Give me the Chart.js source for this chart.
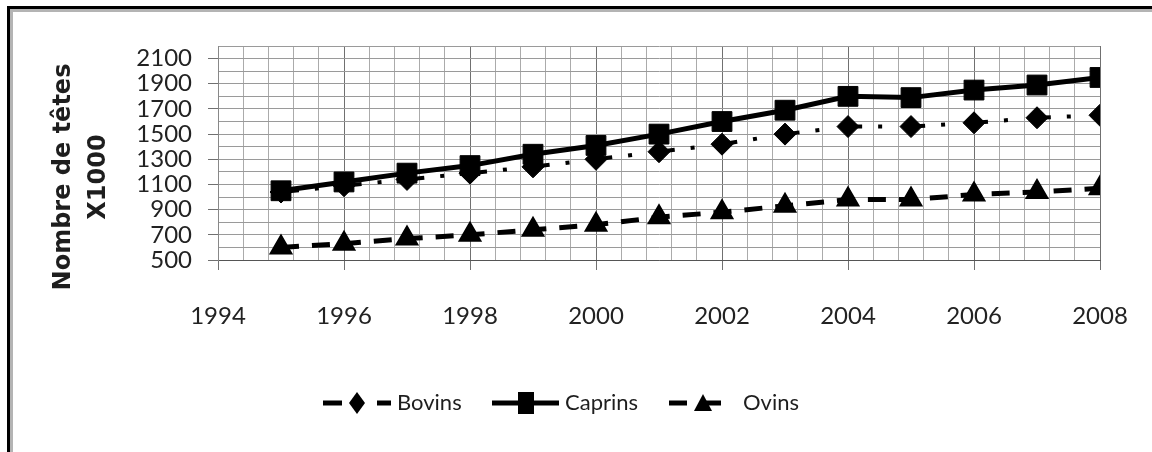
<!DOCTYPE html>
<html>
<head>
<meta charset="utf-8">
<title>Nombre de têtes</title>
<script src="https://cdn.jsdelivr.net/npm/chart.js@4.4.1/dist/chart.umd.min.js"></script>
<style>
  html, body { margin: 0; padding: 0; background: #fff; overflow: hidden; }
  #wrap { position: relative; width: 1152px; height: 452px; overflow: hidden; }
  #chart { position: absolute; left: 0; top: 0; }
  #frame {
    position: absolute; left: 7px; top: 6px; right: -10px; bottom: -10px;
    border-top: 3px solid #000; border-left: 3px solid #000; pointer-events: none;
  }
  #frame div {
    position: absolute; left: 0; top: 0; right: 0; bottom: 0;
    border-top: 3px solid #b4b4b4; border-left: 3px solid #b4b4b4;
  }
</style>
</head>
<body>
<div id="wrap">
  <canvas id="chart" width="1152" height="452"></canvas>
  <div id="frame"><div></div></div>
</div>
<script>
const years = [1995, 1996, 1997, 1998, 1999, 2000, 2001, 2002, 2003, 2004, 2005, 2006, 2007, 2008];
const bovins = [1040, 1090, 1140, 1190, 1240, 1300, 1360, 1420, 1500, 1560, 1560, 1590, 1630, 1650];
const caprins = [1050, 1120, 1190, 1250, 1340, 1410, 1500, 1600, 1690, 1800, 1790, 1850, 1890, 1950];
const ovins = [600, 630, 670, 700, 740, 780, 840, 880, 930, 980, 980, 1020, 1040, 1070];
const seriesNames = ["Bovins", "Caprins", "Ovins"];
const xTickLabels = [1994, 1996, 1998, 2000, 2002, 2004, 2006, 2008];
const yTickLabels = [500, 700, 900, 1100, 1300, 1500, 1700, 1900, 2100];
const axisTitle = ["Nombre de têtes", "X1000"];

const toPoints = (vals) => vals.map((v, i) => ({ x: years[i], y: v }));

const isMajorX = (v) => {
  const yr = Math.round(v);
  return Math.abs(v - yr) < 0.01 && xTickLabels.includes(yr);
};
const isMajorY = (v) => yTickLabels.includes(Math.round(v));

// titre de l'axe Y + légende dessinés à la main
const extras = {
  id: "extras",
  afterDraw(chart) {
    const c = chart.ctx;
    c.save();
    c.fillStyle = "#1e1e1e";
    c.font = "bold 24px 'DejaVu Sans'";
    c.textAlign = "center";
    c.textBaseline = "middle";
    axisTitle.forEach((t, i) => {
      c.save();
      c.translate(64 + i * 35, 177);
      c.rotate(-Math.PI / 2);
      c.fillText(t, 0, 0);
      c.restore();
    });

    const items = [
      { start: 323, end: 391, marker: 357, text: 397, dash: [19, 35, 14] },
      { start: 492, end: 559, marker: 526, text: 565, dash: [] },
      { start: 669, end: 721, marker: 703, text: 743, dash: [18, 16, 18] },
    ];
    const ly = 403;
    chart.data.datasets.forEach((ds, i) => {
      const it = items[i];
      c.strokeStyle = "#000";
      c.fillStyle = "#000";
      c.lineWidth = 5;
      c.setLineDash(it.dash);
      c.beginPath();
      c.moveTo(it.start, ly);
      c.lineTo(it.end, ly);
      c.stroke();
      c.setLineDash([]);
      c.beginPath();
      const m = it.marker;
      if (ds.pointStyle === "rectRot") {
        c.moveTo(m, ly - 11); c.lineTo(m + 8, ly); c.lineTo(m, ly + 11); c.lineTo(m - 8, ly);
      } else if (ds.pointStyle === "rect") {
        c.rect(m - 8, ly - 11, 16, 22);
      } else {
        c.moveTo(m, ly - 9); c.lineTo(m + 9, ly + 8); c.lineTo(m - 9, ly + 8);
      }
      c.closePath();
      c.fill();
      c.fillStyle = "#1e1e1e";
      c.font = "22px Lato";
      c.textAlign = "left";
      c.fillText(ds.label, it.text, ly);
    });
    c.restore();
  },
};

const ctx = document.getElementById("chart").getContext("2d");
new Chart(ctx, {
  type: "line",
  data: {
    datasets: [
      {
        label: seriesNames[0],
        data: toPoints(bovins),
        borderColor: "#000",
        backgroundColor: "#000",
        borderWidth: 4,
        borderDash: [18, 16, 4, 25],
        pointStyle: "rectRot",
        pointRadius: 11,
        pointBorderWidth: 1,
      },
      {
        label: seriesNames[1],
        data: toPoints(caprins),
        borderColor: "#000",
        backgroundColor: "#000",
        borderWidth: 5,
        pointStyle: "rect",
        pointRadius: 14,
        pointBorderWidth: 1,
      },
      {
        label: seriesNames[2],
        data: toPoints(ovins),
        borderColor: "#000",
        backgroundColor: "#000",
        borderWidth: 5,
        borderDash: [18, 13],
        pointStyle: "triangle",
        pointRadius: 12,
        pointBorderWidth: 2,
      },
    ],
  },
  options: {
    responsive: false,
    animation: false,
    layout: { padding: { left: 0, top: 46, right: 52, bottom: 0 } },
    plugins: { legend: { display: false }, tooltip: { enabled: false } },
    elements: { line: { tension: 0 } },
    scales: {
      x: {
        type: "linear",
        min: 1994,
        max: 2008,
        afterFit: (scale) => {
          scale.height = 192;
          scale.paddingLeft = 0;
          scale.paddingRight = 0;
        },
        ticks: {
          stepSize: 0.4,
          autoSkip: false,
          maxRotation: 0,
          padding: 32,
          color: "#222",
          font: { family: "Lato", size: 24 },
          callback: (v) => (isMajorX(v) ? String(Math.round(v)) : ""),
        },
        grid: {
          color: (c) => (c.tick && isMajorX(c.tick.value) ? "#707070" : "#ababab"),
          tickColor: (c) => (c.tick && isMajorX(c.tick.value) ? "#707070" : "rgba(0,0,0,0)"),
          tickLength: 10,
          lineWidth: 1,
        },
        border: { display: true, color: "#555", width: 1 },
      },
      y: {
        min: 500,
        max: 2200,
        afterFit: (scale) => {
          scale.width = 218;
          scale.paddingTop = 0;
          scale.paddingBottom = 0;
        },
        ticks: {
          stepSize: 100,
          autoSkip: false,
          padding: 16,
          color: "#222",
          font: { family: "Lato", size: 24 },
          callback: (v) => (isMajorY(v) ? String(v) : ""),
        },
        grid: {
          color: "#9a9a9a",
          tickColor: (c) => (c.tick && isMajorY(c.tick.value) ? "#707070" : "rgba(0,0,0,0)"),
          tickLength: 10,
          lineWidth: 1,
        },
        border: { display: true, color: "#888", width: 1 },
      },
    },
  },
  plugins: [extras],
});
</script>
</body>
</html>
